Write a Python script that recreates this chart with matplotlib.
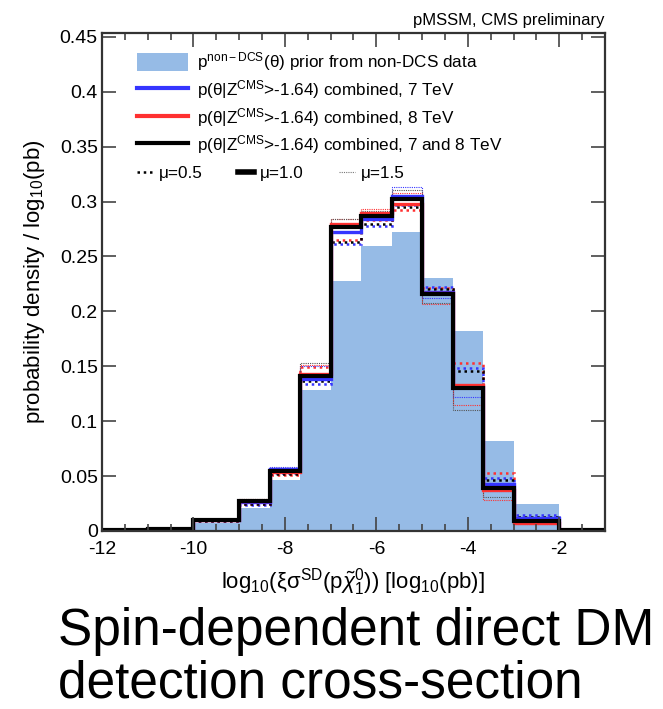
import matplotlib
matplotlib.use("Agg")
from matplotlib import pyplot as plt
from matplotlib.lines import Line2D
from matplotlib.patches import Patch
from matplotlib.ticker import MultipleLocator, FuncFormatter

plt.rcParams['font.family'] = ['Liberation Sans', 'DejaVu Sans']
plt.rcParams['mathtext.fontset'] = 'custom'
plt.rcParams['mathtext.rm'] = 'Liberation Sans'
plt.rcParams['mathtext.it'] = 'Liberation Sans:italic'

##### histogram binning (log10 of the cross-section in pb)
edges = [-12, -11, -10, -9, -8.333, -7.667, -7, -6.333, -5.667, -5, -4.333, -3.667, -3, -2, -1]

# prior from non-DCS data
prior = [0.0005, 0.001, 0.007, 0.021, 0.046, 0.128, 0.228, 0.260, 0.272, 0.230, 0.182, 0.082, 0.025, 0.002]

# posteriors, mu = 1.0
comb_7 = [0.0005, 0.002, 0.010, 0.026, 0.056, 0.138, 0.272, 0.284, 0.305, 0.218, 0.131, 0.043, 0.012, 0.001]
comb_8 = [0.0005, 0.002, 0.010, 0.027, 0.054, 0.143, 0.280, 0.290, 0.298, 0.217, 0.133, 0.037, 0.007, 0.001]
comb_78 = [0.0005, 0.002, 0.010, 0.027, 0.055, 0.141, 0.277, 0.287, 0.302, 0.216, 0.130, 0.039, 0.009, 0.001]

# posteriors, mu = 0.5
comb_7_mu05 = [0.0005, 0.0018, 0.009, 0.024, 0.053, 0.134, 0.261, 0.278, 0.297, 0.222, 0.148, 0.048, 0.015, 0.0012]
comb_8_mu05 = [0.0005, 0.0018, 0.009, 0.025, 0.051, 0.149, 0.265, 0.283, 0.292, 0.221, 0.153, 0.053, 0.011, 0.0012]
comb_78_mu05 = [0.0005, 0.0018, 0.009, 0.025, 0.052, 0.137, 0.263, 0.280, 0.295, 0.220, 0.146, 0.046, 0.013, 0.0012]

# posteriors, mu = 1.5
comb_7_mu15 = [0.0005, 0.002, 0.011, 0.028, 0.058, 0.150, 0.280, 0.289, 0.313, 0.212, 0.122, 0.036, 0.010, 0.0008]
comb_8_mu15 = [0.0005, 0.002, 0.011, 0.029, 0.057, 0.151, 0.284, 0.293, 0.308, 0.207, 0.115, 0.028, 0.006, 0.0008]
comb_78_mu15 = [0.0005, 0.002, 0.011, 0.029, 0.057, 0.153, 0.284, 0.291, 0.311, 0.208, 0.110, 0.031, 0.007, 0.0008]

y_ticks = [0, 0.05, 0.1, 0.15, 0.2, 0.25, 0.3, 0.35, 0.4, 0.45]
x_ticks = [-12, -10, -8, -6, -4, -2]

fill_col = '#96bbe6'
blue = '#3535ff'
red = '#ff3030'

fig = plt.figure(figsize=(6.63, 7.09), dpi=100)
ax = fig.add_axes([0.1538, 0.2511, 0.7587, 0.7024])

ax.stairs(prior, edges, fill=True, color=fill_col, lw=0)

# mu variations first so the nominal curves sit on top
for vals, col in [(comb_7_mu05, blue), (comb_8_mu05, red), (comb_78_mu05, 'black')]:
    ax.stairs(vals, edges, color=col, lw=1.8, ls=(0, (1, 1.5)))
for vals, col in [(comb_7_mu15, blue), (comb_8_mu15, red), (comb_78_mu15, '#555555')]:
    ax.stairs(vals, edges, color=col, lw=0.8, ls=(0, (1, 1)))

ax.stairs(comb_7, edges, color=blue, lw=2.4)
ax.stairs(comb_8, edges, color=red, lw=2.4)
ax.stairs(comb_78, edges, color='black', lw=3)

ax.set_xlim(-12, -1)
ax.set_ylim(0, 0.4536)
ax.set_xticks(x_ticks)
ax.xaxis.set_minor_locator(MultipleLocator(0.5))
ax.set_yticks(y_ticks)
ax.yaxis.set_major_formatter(FuncFormatter(lambda v, p: '%g' % v))
ax.xaxis.set_major_formatter(FuncFormatter(lambda v, p: '%g' % v))
ax.tick_params(which='both', direction='in', top=True, right=True, labelsize=14, width=1.2, color='#444444')
ax.tick_params(which='major', length=10)
ax.tick_params(which='minor', length=5)
ax.tick_params(axis='x', pad=7)
ax.tick_params(axis='y', pad=3)
for s in ax.spines.values():
    s.set_linewidth(1.6)
    s.set_color('#333333')

ax.set_ylabel(r'probability density / log$_{10}$(pb)', fontsize=16)
ax.yaxis.set_label_coords(-0.11, 0.5)
ax.set_xlabel(r'log$_{10}$(ξσ$^{\rm SD}$(p$\tilde{\chi}^0_1$)) [log$_{10}$(pb)]', fontsize=16)
ax.xaxis.set_label_coords(0.5, -0.07)

ax.text(1.0, 1.01, 'pMSSM, CMS preliminary', transform=ax.transAxes,
        ha='right', va='bottom', fontsize=12)

# legend: samples and combinations
h1 = [Patch(facecolor=fill_col, edgecolor='none'),
      Line2D([], [], color=blue, lw=3),
      Line2D([], [], color=red, lw=3),
      Line2D([], [], color='black', lw=3)]
l1 = [r'p$^{\rm non-DCS}$(θ) prior from non-DCS data',
      r'p(θ|Z$^{\rm CMS}$>-1.64) combined, 7 TeV',
      r'p(θ|Z$^{\rm CMS}$>-1.64) combined, 8 TeV',
      r'p(θ|Z$^{\rm CMS}$>-1.64) combined, 7 and 8 TeV']
leg1 = ax.legend(h1, l1, loc='upper left', bbox_to_anchor=(0.07, 0.965), frameon=False,
                 fontsize=12.3, handlelength=2.95, handleheight=1.2, handletextpad=0.55,
                 labelspacing=0.28, borderpad=0, borderaxespad=0)
ax.add_artist(leg1)

# legend: signal strength
h2 = [Line2D([], [], color='black', lw=1.8, ls=(0, (1, 1.5))),
      Line2D([], [], color='black', lw=4),
      Line2D([], [], color='#777777', lw=0.8, ls=(0, (1, 1)))]
l2 = ['μ=0.5', 'μ=1.0', 'μ=1.5']
ax.legend(h2, l2, loc='upper left', bbox_to_anchor=(0.07, 0.733), frameon=False, ncol=3,
          fontsize=12.3, handlelength=0.9, handletextpad=0.35, columnspacing=2.1,
          borderpad=0, borderaxespad=0)

fig.text(0.088, 0.09, 'Spin-dependent direct DM', fontsize=37, ha='left', va='baseline')
fig.text(0.088, 0.016, 'detection cross-section', fontsize=37, ha='left', va='baseline')

plt.savefig('out.png', dpi=100)
